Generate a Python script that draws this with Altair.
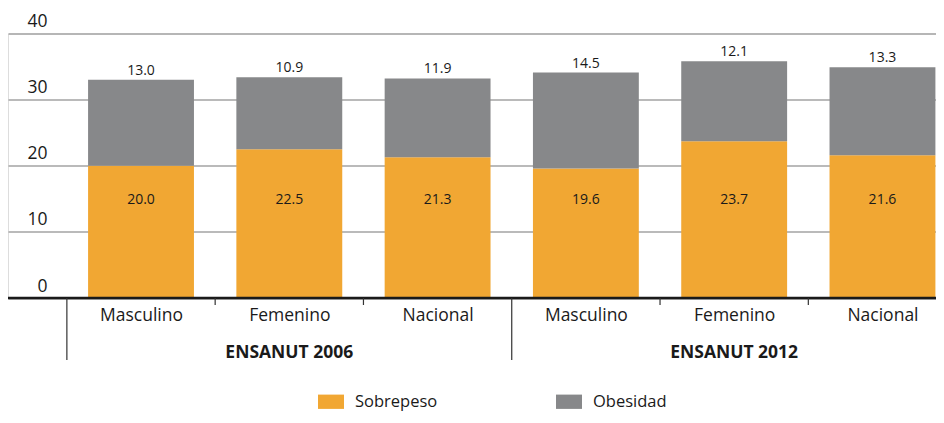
import altair as alt
import pandas as pd

categories = ["Masculino", "Femenino", "Nacional", "Masculino", "Femenino", "Nacional"]
surveys = ["ENSANUT 2006", "ENSANUT 2006", "ENSANUT 2006", "ENSANUT 2012", "ENSANUT 2012", "ENSANUT 2012"]
sobrepeso = [20.0, 22.5, 21.3, 19.6, 23.7, 21.6]
obesidad = [13.0, 10.9, 11.9, 14.5, 12.1, 13.3]
groups = ["ENSANUT 2006", "ENSANUT 2012"]
y_ticks = [0, 10, 20, 30, 40]
series = ["Sobrepeso", "Obesidad"]
colors = ["#F1A733", "#87888A"]

FONT = "Open Sans"
W, H = 928, 264.5

rows = []
for i, (c, s, so, ob) in enumerate(zip(categories, surveys, sobrepeso, obesidad)):
    rows.append({"idx": i, "cat": c, "survey": s, "serie": "Sobrepeso", "y0": 0.0, "y1": so, "val": so})
    rows.append({"idx": i, "cat": c, "survey": s, "serie": "Obesidad", "y0": so, "y1": so + ob, "val": ob})
df = pd.DataFrame(rows)

grp_df = pd.DataFrame({"g": groups, "c": [1, 4]})
sep_df = pd.DataFrame({"b": [-0.5, 2.5]})
tick_df = pd.DataFrame({"b": [0.5, 1.5, 3.5, 4.5]})

xscale = alt.Scale(domain=[-0.897, 5.361], nice=False, zero=False)
yscale = alt.Scale(domain=[0, 40], nice=False)

label_arr = "[" + ",".join("'" + c + "'" for c in categories) + "]"

base = alt.Chart(df)

bars = base.transform_calculate(
    xa="datum.idx - 0.357", xb="datum.idx + 0.357"
).mark_bar().encode(
    x=alt.X("xa:Q", scale=xscale, title=None,
            axis=alt.Axis(values=list(range(6)), labelExpr=label_arr + "[datum.value]",
                          domain=False, ticks=False, grid=False, labelPadding=8,
                          labelFontSize=17.5, labelFont=FONT, labelColor="#1a1a1a",
                          labelOverlap=False, labelFlush=False, labelBaseline="top")),
    x2="xb:Q",
    y=alt.Y("y0:Q", scale=yscale, title=None,
            axis=alt.Axis(values=y_ticks, domain=False, ticks=False, grid=True,
                          gridColor="#a3a3a3", gridWidth=1.5,
                          labelAlign="right", labelPadding=-39, labelOffset=-12,
                          labelFontSize=17.5, labelFont=FONT, labelColor="#1a1a1a")),
    y2="y1:Q",
    color=alt.Color("serie:N", scale=alt.Scale(domain=series, range=colors),
                    legend=alt.Legend(title=None, orient="none", legendX=310, legendY=355,
                                      direction="horizontal",
                                      symbolType="M-1,-0.55L1,-0.55L1,0.55L-1,0.55Z",
                                      symbolSize=676, symbolStrokeWidth=0, symbolOpacity=1,
                                      labelFont=FONT, labelFontSize=16.5, labelColor="#1a1a1a",
                                      labelOffset=11, columnPadding=118)),
)

zero = alt.Chart(pd.DataFrame({"z": [0]})).mark_rule(color="#1a1a1a", strokeWidth=2.5).encode(
    y=alt.Y("z:Q", scale=yscale)
)

lab_ob = base.transform_filter(alt.datum.serie == "Obesidad").mark_text(
    font=FONT, fontSize=14, color="#1a1a1a", baseline="middle", dy=-9
).encode(x=alt.X("idx:Q", scale=xscale), y=alt.Y("y1:Q", scale=yscale), text=alt.Text("val:Q", format=".1f"))

lab_so = base.transform_filter(alt.datum.serie == "Sobrepeso").mark_text(
    font=FONT, fontSize=14, color="#1a1a1a", baseline="middle"
).encode(x=alt.X("idx:Q", scale=xscale), y=alt.datum(14.8), text=alt.Text("val:Q", format=".1f"))

seps = alt.Chart(sep_df).mark_rule(color="#333333", strokeWidth=1.2).encode(
    x=alt.X("b:Q", scale=xscale), y=alt.value(H), y2=alt.value(H + 62)
)
ticks = alt.Chart(tick_df).mark_rule(color="#333333", strokeWidth=1.2).encode(
    x=alt.X("b:Q", scale=xscale), y=alt.value(H), y2=alt.value(H + 7)
)
grp = alt.Chart(grp_df).mark_text(font=FONT, fontSize=17.5, fontWeight="bold", color="#1a1a1a",
                                   baseline="middle").encode(
    x=alt.X("c:Q", scale=xscale), y=alt.value(H + 55), text="g:N"
)

chart = alt.layer(bars, zero, lab_ob, lab_so, seps, ticks, grp).properties(
    width=W, height=H,
    autosize=alt.AutoSizeParams(type="none"),
    padding={"left": 0, "top": 25.5, "right": 0, "bottom": 113},
).configure_view(stroke=None).configure(background="white")

chart.save("out.html", embed_options={"renderer": "svg", "actions": False})
